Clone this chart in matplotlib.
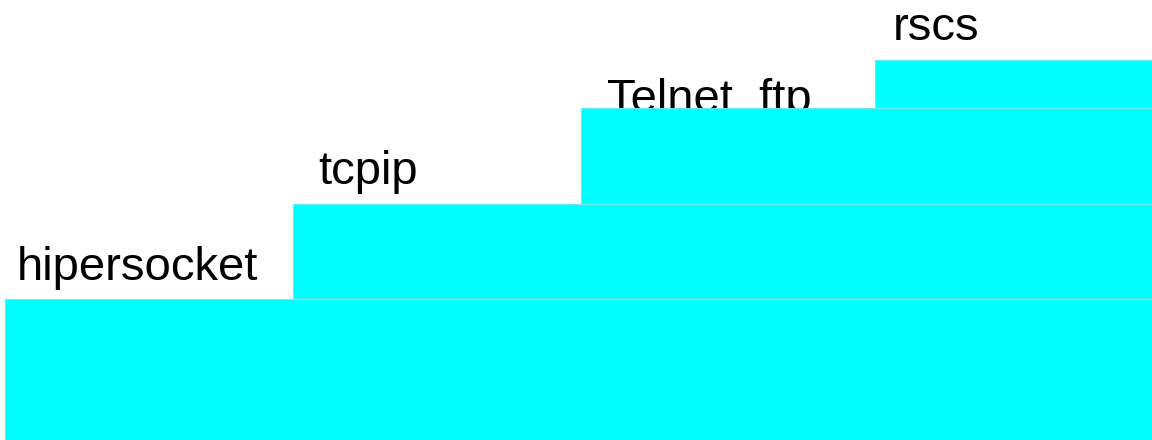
import matplotlib.pyplot as plt

# stacked layers, bottom to top
layers = ["hipersocket", "tcpip", "Telnet  ftp", "rscs"]
layer_left = [5, 293, 581, 875]
layer_height = [141, 95, 96, 48]
right_edge = 1152
total_height = 440

# where each label sits relative to the top-left corner of its layer
label_dx = [12, 25, 26, 18]
label_dy = [19, 20, -4, 20]

plt.rcParams["font.family"] = ["Liberation Sans", "DejaVu Sans"]

fig = plt.figure(figsize=(11.52, 4.4), dpi=100)
ax = fig.add_axes([0, 0, 1, 1])
ax.set_xlim(0, right_edge)
ax.set_ylim(0, total_height)
ax.axis("off")

bottom = 0
for name, left, h, dx, dy in zip(layers, layer_left, layer_height, label_dx, label_dy):
    ax.bar(left, h, width=right_edge - left + 5, bottom=bottom, align="edge",
           color="#00ffff", edgecolor="#c4c4c4", linewidth=0.7, zorder=2)
    # labels go under the bars, so one that runs low gets cut off
    ax.text(left + dx, bottom + h + dy, name, fontsize=34, color="black",
            ha="left", va="baseline", zorder=1)
    bottom += h

fig.savefig("out.png", dpi=100)
